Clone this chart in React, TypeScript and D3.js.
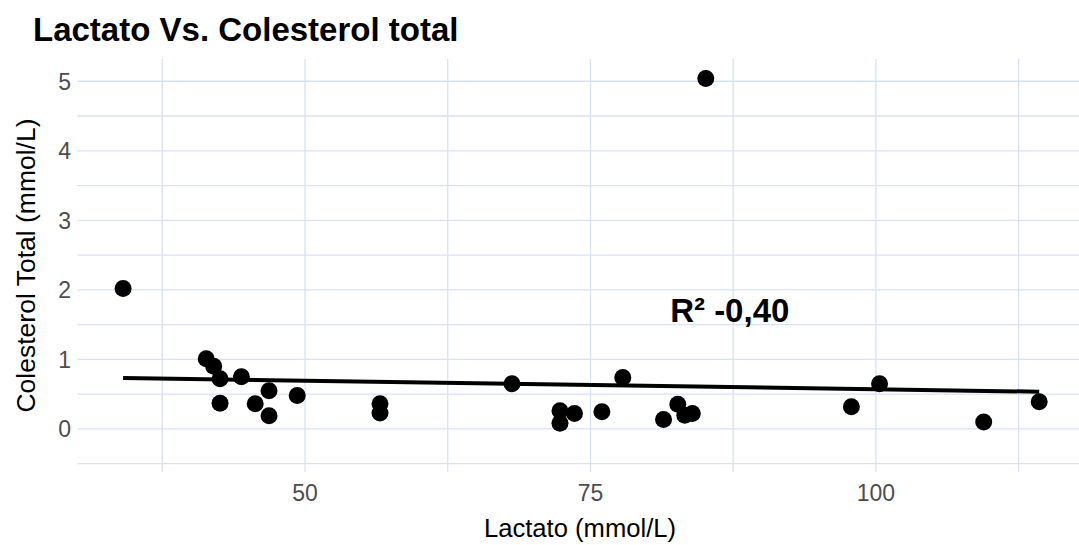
import React from 'react'
import * as d3 from 'd3'

// Lactato (mmol/L) vs Colesterol total (mmol/L)
const lactato = [
  34.07, 41.35, 42.0, 42.56, 42.56, 44.43, 45.64, 46.85, 46.85, 49.32,
  56.57, 56.57, 68.13, 72.33, 72.33, 73.6, 76.0, 77.83, 81.4, 82.65,
  83.26, 83.92, 85.1, 97.85, 100.32, 109.44, 114.3
]
const colesterol = [
  2.02, 1.01, 0.9, 0.72, 0.37, 0.75, 0.36, 0.55, 0.19, 0.48,
  0.36, 0.23, 0.65, 0.26, 0.08, 0.22, 0.245, 0.74, 0.135, 0.355,
  0.197, 0.22, 5.04, 0.32, 0.65, 0.1, 0.39
]

const xTicks = [50, 75, 100]
const xMinor = [37.5, 62.5, 87.5, 112.5]
const yTicks = [0, 1, 2, 3, 4, 5]
const yMinor = [-0.5, 0.5, 1.5, 2.5, 3.5, 4.5]

const title = 'Lactato Vs. Colesterol total'
const xLabel = 'Lactato (mmol/L)'
const yLabel = 'Colesterol Total (mmol/L)'
const annotation = { x: 87.2, y: 1.7, text: 'R² -0,40' }

const WIDTH = 1079
const HEIGHT = 545
const FONT = '"Liberation Sans", Arial, Helvetica, sans-serif'
const GRID = '#d8e2f3'

export default function App() {
  const points = lactato.map((x, i) => ({ x, y: colesterol[i] }))

  // ggplot-like 5% expansion on x
  const [xmin, xmax] = d3.extent(lactato) as [number, number]
  const pad = (xmax - xmin) * 0.05
  const x = d3.scaleLinear().domain([xmin - pad, xmax + pad]).range([77.3, 1085])
  const y = d3.scaleLinear().domain([-0.62, 5.32]).range([472, 59])

  // linear fit (geom_smooth method = lm)
  const mx = d3.mean(lactato) as number
  const my = d3.mean(colesterol) as number
  const sxy = d3.sum(points, d => (d.x - mx) * (d.y - my))
  const sxx = d3.sum(points, d => (d.x - mx) ** 2)
  const slope = sxy / sxx
  const intercept = my - slope * mx
  const fit = [xmin, xmax].map(v => ({ x: v, y: intercept + slope * v }))
  const line = d3.line<{ x: number; y: number }>().x(d => x(d.x)).y(d => y(d.y))

  const [x0, x1] = x.range()
  const [y0, y1] = y.range()

  return (
    <svg width={WIDTH} height={HEIGHT} style={{ position: 'absolute', left: 0, top: 0, background: '#fff' }} fontFamily={FONT}>
      <rect width={WIDTH} height={HEIGHT} fill="#fff" />

      {/* grid */}
      {yMinor.concat(yTicks).map(v => (
        <line key={'h' + v} x1={x0} x2={x1} y1={y(v)} y2={y(v)} stroke={GRID} strokeWidth={1.3} />
      ))}
      {xMinor.concat(xTicks).map(v => (
        <line key={'v' + v} x1={x(v)} x2={x(v)} y1={y1} y2={y0} stroke={GRID} strokeWidth={1.3} />
      ))}

      {/* regression line */}
      <path d={line(fit) || ''} fill="none" stroke="#000" strokeWidth={4} />

      {/* points */}
      {points.map((d, i) => (
        <circle key={i} cx={x(d.x)} cy={y(d.y)} r={8.5} fill="#000" />
      ))}

      {/* annotation */}
      <text x={x(annotation.x)} y={y(annotation.y)} dy="0.35em" textAnchor="middle" fontSize={33} fontWeight="bold" fill="#000">
        {annotation.text}
      </text>

      {/* tick labels */}
      {yTicks.map(v => (
        <text key={'yt' + v} x={71} y={y(v)} dy="0.36em" textAnchor="end" fontSize={23} fill="#4d4d4d">{v}</text>
      ))}
      {xTicks.map(v => (
        <text key={'xt' + v} x={x(v)} y={501} textAnchor="middle" fontSize={23} fill="#4d4d4d">{v}</text>
      ))}

      {/* axis titles */}
      <text x={580} y={537} textAnchor="middle" fontSize={25.6} fill="#000">{xLabel}</text>
      <text transform={`translate(26, ${(y0 + y1) / 2}) rotate(-90)`} dy="0.35em" textAnchor="middle" fontSize={26.5} fill="#000">{yLabel}</text>

      {/* title */}
      <text x={33} y={41} fontSize={33} fontWeight="bold" fill="#000">{title}</text>
    </svg>
  )
}
